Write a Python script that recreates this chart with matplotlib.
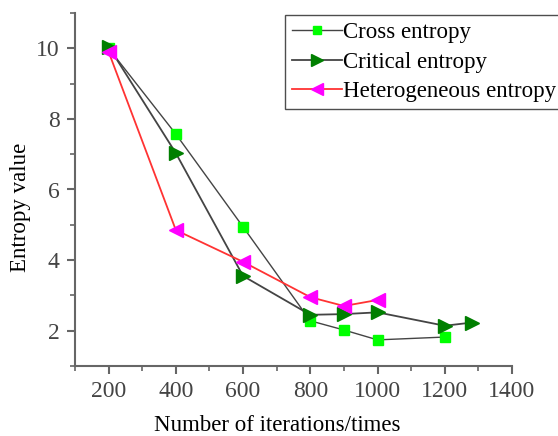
import matplotlib
matplotlib.use("Agg")
import matplotlib.pyplot as plt
from matplotlib.ticker import MultipleLocator

plt.rcParams['font.family'] = ['Liberation Serif', 'DejaVu Serif']

cross_x = [200, 400, 600, 800, 900, 1000, 1200]
cross_y = [10.0, 7.57, 4.94, 2.28, 2.02, 1.74, 1.82]
crit_x = [200, 400, 600, 800, 900, 1000, 1200, 1280]
crit_y = [10.05, 7.03, 3.55, 2.45, 2.47, 2.52, 2.14, 2.23]
het_x = [200, 400, 600, 800, 900, 1000]
het_y = [9.9, 4.85, 3.95, 2.95, 2.7, 2.87]

fig = plt.figure(figsize=(5.58, 4.36), dpi=100)
ax = fig.add_axes([75/558, 1-366/436, (512-75)/558, (366-13)/436])

ax.plot(cross_x, cross_y, color='#444444', lw=1.0, marker='s', ms=7.5,
        mfc='#00ff00', mec='#00ff00', label='Cross entropy', zorder=3)
ax.plot(crit_x, crit_y, color='#444444', lw=1.3, marker='>', ms=10,
        mfc='#007f00', mec='#007f00', label='Critical entropy', zorder=3)
ax.plot(het_x, het_y, color='#ff3333', lw=1.3, marker='<', ms=10,
        mfc='#ff00ff', mec='#ff00ff', label='Heterogeneous entropy', zorder=3)

ax.set_xlim(100, 1400)
ax.set_ylim(1, 11)
ax.xaxis.set_major_locator(MultipleLocator(200))
ax.xaxis.set_minor_locator(MultipleLocator(100))
ax.yaxis.set_major_locator(MultipleLocator(2))
ax.yaxis.set_minor_locator(MultipleLocator(1))
ax.set_xticks([200, 400, 600, 800, 1000, 1200, 1400])

for s in ['top', 'right']:
    ax.spines[s].set_visible(False)
for s in ['left', 'bottom']:
    ax.spines[s].set_color('#666666')
    ax.spines[s].set_linewidth(1.5)

ax.tick_params(which='major', direction='out', length=6, width=1.5,
               color='#666666', labelsize=17, labelcolor='#444444', pad=5)
ax.tick_params(which='minor', direction='out', length=3.5, width=1.2,
               color='#666666')

ax.set_xlabel('Number of iterations/times', fontsize=16.5)
ax.set_ylabel('Entropy value', fontsize=16.5)
ax.xaxis.set_label_coords(0.462, -0.138)
ax.yaxis.set_label_coords(-0.1, 0.45)

leg = ax.legend(loc='upper left', bbox_to_anchor=(285/558, 1-15/436),
                bbox_transform=fig.transFigure, fontsize=16.5,
                frameon=True, fancybox=False, edgecolor='#222222',
                handlelength=2.2, handletextpad=0.05, labelspacing=0.38,
                borderpad=0.3, borderaxespad=0, markerscale=0.85)
leg.get_frame().set_linewidth(1.0)

fig.savefig('out.png', dpi=100)
